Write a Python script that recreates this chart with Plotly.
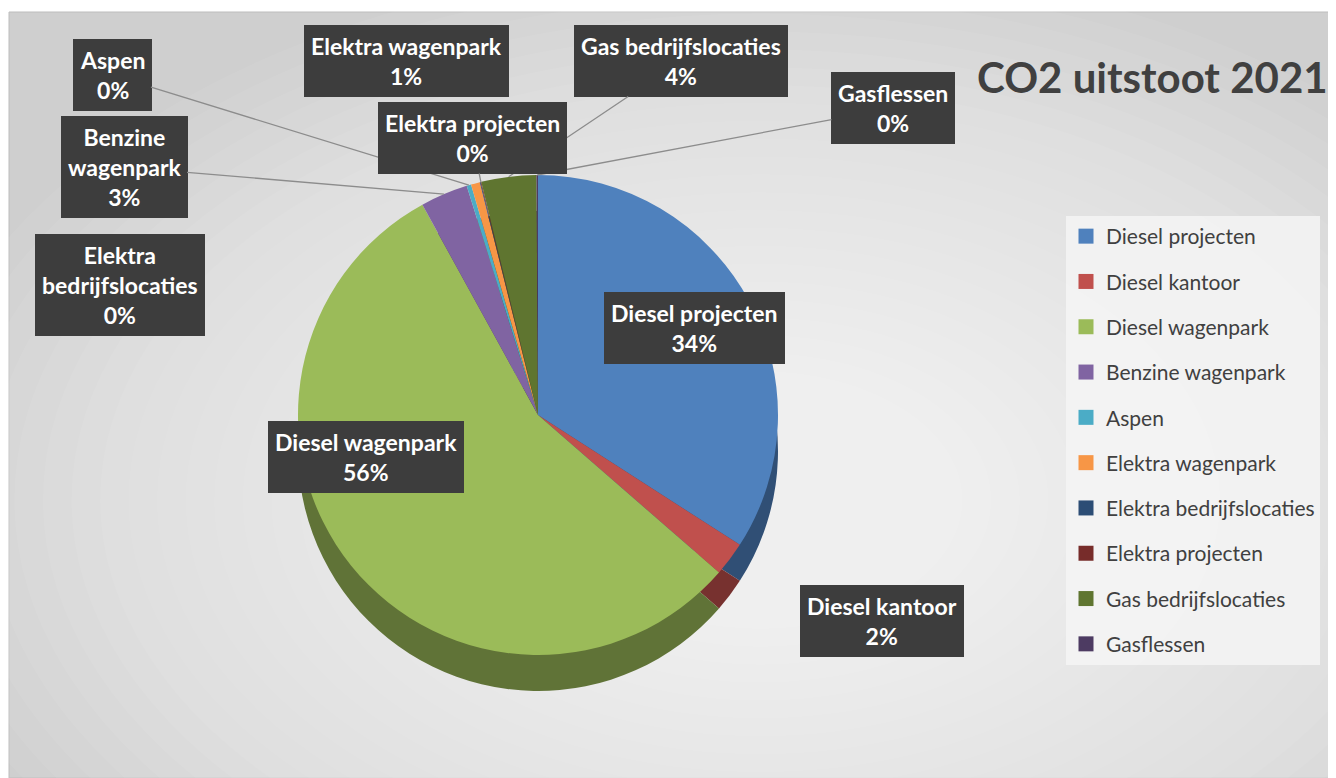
import math
import plotly.graph_objects as go

# ---------------- data ----------------
categories = ["Diesel projecten", "Diesel kantoor", "Diesel wagenpark", "Benzine wagenpark",
              "Aspen", "Elektra wagenpark", "Elektra bedrijfslocaties", "Elektra projecten",
              "Gas bedrijfslocaties", "Gasflessen"]
shares = [34.1, 2.3, 55.6, 3.2, 0.3, 0.6, 0.05, 0.05, 3.7, 0.1]
title_text = "CO2 uitstoot 2021"

# ---------------- style ----------------
colors = ["#4F81BD", "#C0504D", "#9BBB59", "#8064A2", "#4BACC6",
          "#F79646", "#2C4D75", "#772C2A", "#5F7530", "#4D3B62"]
FONT = "Lato, 'Open Sans', sans-serif"
OFF = 8                      # page body margin
FW, FH = 1336 - OFF, 778 - OFF
CX, CY, R, DEPTH = 538, 415, 240, 36


def darker(hexc, f=0.62):
    h = hexc.lstrip("#")
    r, g, b = (int(h[i:i + 2], 16) for i in (0, 2, 4))
    return "#%02x%02x%02x" % (int(r * f), int(g * f), int(b * f))


def fx(x):
    return (x - OFF) / FW


def fy(y):
    return 1 - (y - OFF) / FH


# label box centres (screen pixels) and whether a leader line is drawn
label_layout = {
    "Aspen": (112, 75, True),
    "Benzine wagenpark": (124, 167, True),
    "Elektra bedrijfslocaties": (120, 285, False),
    "Elektra wagenpark": (406, 61, False),
    "Gas bedrijfslocaties": (681, 61, True),
    "Gasflessen": (893, 108, True),
    "Elektra projecten": (472, 138, True),
    "Diesel projecten": (694, 328, False),
    "Diesel wagenpark": (366, 457, False),
    "Diesel kantoor": (882, 621, False),
}
wrapped = {"Benzine wagenpark", "Elektra bedrijfslocaties"}

fig = go.Figure()

# side (depth) of the pie
fig.add_trace(go.Pie(
    labels=categories, values=shares, sort=False, direction="clockwise", rotation=0,
    textinfo="none", hoverinfo="skip", showlegend=False,
    marker=dict(colors=[darker(c) for c in colors], line=dict(width=0)),
    domain=dict(x=[fx(CX - R), fx(CX + R)], y=[fy(CY + R + DEPTH), fy(CY - R + DEPTH)]),
))
# top face
fig.add_trace(go.Pie(
    labels=categories, values=shares, sort=False, direction="clockwise", rotation=0,
    textinfo="none", showlegend=False,
    marker=dict(colors=colors, line=dict(width=0)),
    domain=dict(x=[fx(CX - R), fx(CX + R)], y=[fy(CY + R), fy(CY - R)]),
))

# legend entries
for name, col in zip(categories, colors):
    fig.add_trace(go.Scatter(
        x=[None], y=[None], mode="markers", name=name, legendgroup=name,
        marker=dict(symbol="square", size=15, color=col), hoverinfo="skip",
    ))

# ---------------- labels ----------------
total = sum(shares)
cum = 0.0
mid_angle = {}
for name, v in zip(categories, shares):
    mid_angle[name] = 2 * math.pi * (cum + v / 2) / total
    cum += v
pct = {name: f"{round(v / total * 100)}%" for name, v in zip(categories, shares)}

annotations = []
for name, (bx, by, leader) in label_layout.items():
    disp = name.replace(" ", "<br>") if name in wrapped else name
    text = f"<b>{disp}<br>{pct[name]}</b>"
    common = dict(text=text, xref="paper", yref="paper", bgcolor="#3d3d3d",
                  bordercolor="#3d3d3d", borderpad=6,
                  font=dict(family=FONT, size=23, color="white"), align="center")
    if leader:
        a = mid_angle[name]
        tx = CX + R * math.sin(a)
        ty = CY - R * math.cos(a)
        annotations.append(dict(x=fx(tx), y=fy(ty), showarrow=True, arrowhead=0,
                                arrowwidth=1.3, arrowcolor="#8c8c8c", standoff=0,
                                ax=bx - tx, ay=by - ty, **common))
    else:
        annotations.append(dict(x=fx(bx), y=fy(by), showarrow=False,
                                xanchor="center", yanchor="middle", **common))

annotations.append(dict(text=f"<b>{title_text}</b>", x=fx(1152), y=fy(77), xref="paper", yref="paper",
                        showarrow=False, xanchor="center", yanchor="middle",
                        font=dict(family=FONT, size=42, color="#404040")))

# ---------------- background ----------------
shapes = [dict(type="rect", xref="paper", yref="paper", x0=fx(9), x1=1, y0=0, y1=fy(12),
               fillcolor="#cfcfcf", line=dict(color="#bdbdbd", width=1), layer="below")]
N = 28
for k in range(N):
    t = k / N
    rx, ry = 800 * (1 - t) + 60, 500 * (1 - t) + 40
    gx, gy = 760, 500
    shapes.append(dict(type="circle", xref="paper", yref="paper",
                       x0=fx(gx - rx), x1=fx(gx + rx), y0=fy(gy + ry), y1=fy(gy - ry),
                       fillcolor="white", opacity=0.06, line=dict(width=0), layer="below"))

fig.update_layout(
    width=FW, height=FH, margin=dict(l=0, r=0, t=0, b=0),
    paper_bgcolor="white", plot_bgcolor="rgba(0,0,0,0)",
    xaxis=dict(visible=False), yaxis=dict(visible=False),
    shapes=shapes, annotations=annotations,
    legend=dict(x=fx(1066), y=fy(216), xanchor="left", yanchor="top",
                bgcolor="rgba(245,245,245,0.85)", borderwidth=0,
                font=dict(family=FONT, size=21, color="#404040"),
                traceorder="grouped", tracegroupgap=15, itemclick=False),
    showlegend=True,
)

fig.write_html("out.html")
